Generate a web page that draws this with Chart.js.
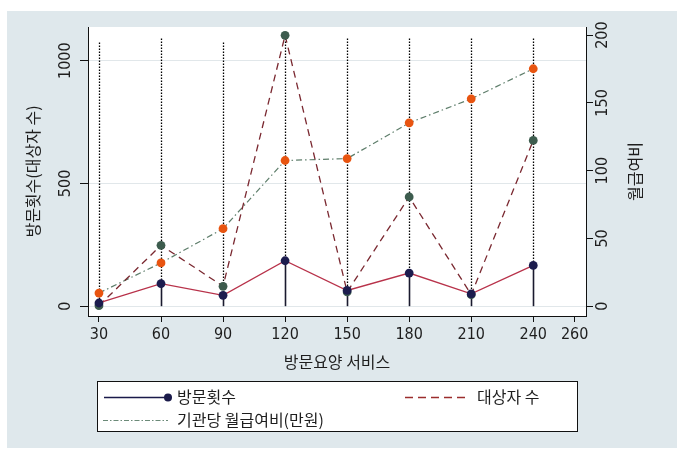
<!DOCTYPE html>
<html><head><meta charset="utf-8">
<script src="https://cdn.jsdelivr.net/npm/chart.js@4.4.1/dist/chart.umd.min.js"></script>
<style>html,body{margin:0;padding:0;background:#fff;}canvas{display:block;}</style>
</head><body>
<canvas id="c" width="685" height="460"></canvas>
<script>
// ---- data ----
const categories = [30, 60, 90, 120, 150, 180, 210, 240];
const visits     = [13, 92, 44, 185, 64, 135, 50, 166];          // 방문횟수 (left axis)
const subjects   = [2, 248, 81, 1103, 58, 445, 47, 675];         // 대상자 수 (left axis)
const monthlyPay = [9.7, 31.9, 57.2, 107.5, 108.9, 135.3, 153, 175.2]; // 기관당 월급여비(만원) (right axis)
const dropTops   = [1074, 1090, 1074, 1090, 1090, 1090, 1090, 1090];   // top of dotted guide lines (left axis units)
const xTicks  = [30, 60, 90, 120, 150, 180, 210, 240, 260];
const yTicks  = [0, 500, 1000];
const y2Ticks = [0, 50, 100, 150, 200];
const seriesNames = ['방문횟수', '대상자 수', '기관당 월급여비(만원)'];
const xTitle = '방문요양 서비스';
const yTitle = '방문횟수(대상자 수)';
const y2Title = '월급여비';

const tickFamily = "'Liberation Sans Narrow', 'DejaVu Sans Condensed', 'Liberation Sans', Arial, sans-serif";
const korFamily = "'Noto Sans CJK KR', 'Noto Sans', sans-serif";
const tickFont = {family: tickFamily, size: 16};
const titleFont = {family: korFamily, size: 16};
const textColor = '#1e1e1e';

// measure widths for rotated tick label centering
const mctx = document.createElement('canvas').getContext('2d');
mctx.font = '16px ' + tickFamily;
const w1000 = mctx.measureText('1000').width;
const w200 = mctx.measureText('200').width;
const padL = 14 - w1000 / 2;
const padR = 10 - w200 / 2;

const pts = arr => categories.map((c, i) => ({x: c, y: arr[i]}));

const bgPlugin = {
  id: 'bg',
  beforeDraw(chart) {
    const ctx = chart.ctx, a = chart.chartArea;
    ctx.save();
    ctx.fillStyle = '#ffffff';
    ctx.fillRect(0, 0, chart.width, chart.height);
    ctx.fillStyle = '#dfe8ec';
    ctx.fillRect(7, 11, 670, 437);
    ctx.fillStyle = '#ffffff';
    ctx.fillRect(a.left, a.top, a.right - a.left, a.bottom - a.top);
    ctx.restore();
  }
};

const dropPlugin = {
  id: 'drops',
  beforeDatasetsDraw(chart) {
    const ctx = chart.ctx, xs = chart.scales.x, ys = chart.scales.y;
    ctx.save();
    categories.forEach((c, i) => {
      const px = Math.round(xs.getPixelForValue(c)) + 0.5;
      const yv = ys.getPixelForValue(visits[i]);
      const yt = ys.getPixelForValue(dropTops[i]);
      const y0 = ys.getPixelForValue(0);
      ctx.setLineDash([1.5, 1.5]);
      ctx.lineWidth = 1.3;
      ctx.strokeStyle = '#000';
      ctx.beginPath(); ctx.moveTo(px, yt); ctx.lineTo(px, yv); ctx.stroke();
      ctx.setLineDash([]);
      ctx.lineWidth = 1.6;
      ctx.strokeStyle = '#1a1a2e';
      ctx.beginPath(); ctx.moveTo(px, y0); ctx.lineTo(px, yv); ctx.stroke();
    });
    ctx.restore();
  }
};

const legendPlugin = {
  id: 'customLegend',
  afterDraw(chart) {
    const ctx = chart.ctx;
    ctx.save();
    // right axis title, rotated like the left one
    ctx.font = '16px ' + korFamily;
    ctx.fillStyle = textColor;
    ctx.textAlign = 'center';
    ctx.textBaseline = 'middle';
    const a = chart.chartArea;
    ctx.translate(635, (a.top + a.bottom) / 2);
    ctx.rotate(-Math.PI / 2);
    ctx.fillText(y2Title, 0, 0);
    ctx.setTransform(1, 0, 0, 1, 0, 0);

    // legend box
    ctx.fillStyle = '#ffffff';
    ctx.fillRect(97, 381, 480, 50);
    ctx.strokeStyle = '#111';
    ctx.lineWidth = 1;
    ctx.strokeRect(97.5, 381.5, 480, 50);

    // entry 1
    ctx.strokeStyle = '#1a1a4a'; ctx.lineWidth = 1.5; ctx.setLineDash([]);
    ctx.beginPath(); ctx.moveTo(104, 397.5); ctx.lineTo(168, 397.5); ctx.stroke();
    ctx.fillStyle = '#1a1a4a';
    ctx.beginPath(); ctx.arc(168, 397.5, 4, 0, Math.PI * 2); ctx.fill();
    // entry 2
    ctx.strokeStyle = '#9b2d2d'; ctx.lineWidth = 1.3; ctx.setLineDash([8, 5]);
    ctx.beginPath(); ctx.moveTo(405, 397.5); ctx.lineTo(467, 397.5); ctx.stroke();
    // entry 3
    ctx.strokeStyle = '#6b8a78'; ctx.lineWidth = 1.2; ctx.setLineDash([5, 2, 1.5, 2]);
    ctx.beginPath(); ctx.moveTo(103, 420.5); ctx.lineTo(168, 420.5); ctx.stroke();
    ctx.setLineDash([]);

    ctx.fillStyle = textColor;
    ctx.font = '16px ' + korFamily;
    ctx.textAlign = 'left';
    ctx.textBaseline = 'middle';
    ctx.fillText(seriesNames[0], 177, 397);
    ctx.fillText(seriesNames[1], 477, 397);
    ctx.fillText(seriesNames[2], 177, 420);
    ctx.restore();
  }
};

const setTicks = arr => s => { s.ticks = arr.map(v => ({value: v})); };

new Chart(document.getElementById('c'), {
  type: 'line',
  data: {
    datasets: [
      {
        label: seriesNames[0], data: pts(visits), yAxisID: 'y',
        borderColor: '#b8324a', borderWidth: 1.3,
        pointRadius: 4.4, pointBackgroundColor: '#1c1c4e', pointBorderWidth: 0,
        tension: 0
      },
      {
        label: seriesNames[1], data: pts(subjects), yAxisID: 'y',
        borderColor: '#7a2830', borderWidth: 1.3, borderDash: [7, 5],
        pointRadius: 4.4, pointBackgroundColor: '#3d5c4e', pointBorderWidth: 0,
        tension: 0
      },
      {
        label: seriesNames[2], data: pts(monthlyPay), yAxisID: 'y2',
        borderColor: '#5d7d6a', borderWidth: 1.2, borderDash: [6, 3, 1.5, 3],
        pointRadius: 4.4, pointBackgroundColor: '#e85410', pointBorderWidth: 0,
        tension: 0
      }
    ]
  },
  options: {
    responsive: false,
    animation: false,
    events: [],
    layout: {padding: {top: 27, left: 0, right: 0, bottom: 88}},
    plugins: {legend: {display: false}, tooltip: {enabled: false}},
    scales: {
      x: {
        type: 'linear', min: 24.7, max: 265.5,
        afterBuildTicks: setTicks(xTicks),
        afterFit: s => { s.height = 56; },
        grid: {drawOnChartArea: false, drawTicks: true, tickLength: 6, tickColor: '#111', tickWidth: 1},
        border: {display: true, color: '#111', width: 1},
        ticks: {font: tickFont, color: textColor, padding: 3, maxRotation: 0, minRotation: 0, autoSkip: false, callback: v => String(v)},
        title: {display: true, text: xTitle, font: titleFont, color: textColor, padding: {top: 0, bottom: 0}}
      },
      y: {
        position: 'left', min: -40, max: 1137,
        afterBuildTicks: setTicks(yTicks),
        afterFit: s => { s.width = 88; },
        grid: {color: '#e1e7ea', lineWidth: 1, drawTicks: true, tickLength: 8, tickColor: '#111', tickWidth: 1},
        border: {display: true, color: '#111', width: 1},
        ticks: {font: tickFont, color: textColor, minRotation: 90, maxRotation: 90, crossAlign: 'center', padding: padL, autoSkip: false, callback: v => String(v)},
        title: {display: true, text: yTitle, font: titleFont, color: textColor, padding: {top: 23, bottom: 0}}
      },
      y2: {
        position: 'right', min: -7.25, max: 206,
        afterBuildTicks: setTicks(y2Ticks),
        afterFit: s => { s.width = 99; },
        grid: {drawOnChartArea: false, drawTicks: true, tickLength: 7, tickColor: '#111', tickWidth: 1},
        border: {display: true, color: '#111', width: 1},
        ticks: {font: tickFont, color: textColor, minRotation: 90, maxRotation: 90, crossAlign: 'center', padding: padR, autoSkip: false, callback: v => String(v)},
        title: {display: false}
      }
    }
  },
  plugins: [bgPlugin, dropPlugin, legendPlugin]
});
</script>
</body></html>
